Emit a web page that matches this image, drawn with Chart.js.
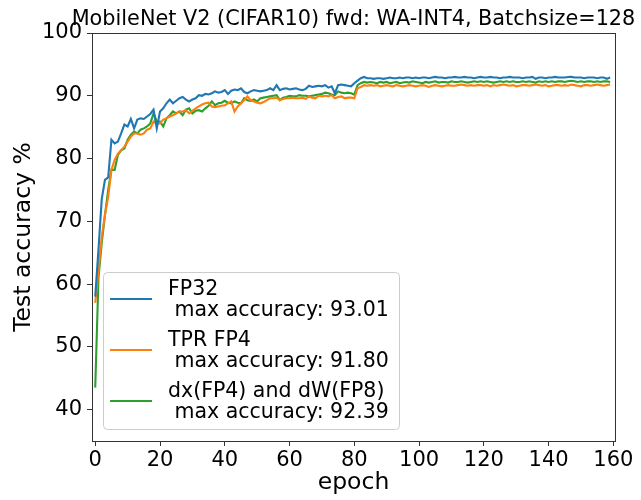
<!DOCTYPE html>
<html>
<head>
<meta charset="utf-8">
<script src="https://cdn.jsdelivr.net/npm/chart.js@4"></script>
<style>
html,body{margin:0;padding:0;background:#fff;}
#wrap{width:641px;height:500px;position:relative;}
</style>
</head>
<body>
<div id="wrap"><canvas id="c" width="641" height="500"></canvas></div>
<script>
const chartTitle = "MobileNet V2 (CIFAR10) fwd: WA-INT4, Batchsize=128";
const xAxisTitle = "epoch";
const yAxisTitle = "Test accuracy %";
const xTickValues = [0, 20, 40, 60, 80, 100, 120, 140, 160];
const yTickValues = [40, 50, 60, 70, 80, 90, 100];
const seriesLabels = [
  ["FP32", " max accuracy: 93.01"],
  ["TPR FP4", " max accuracy: 91.80"],
  ["dx(FP4) and dW(FP8)", " max accuracy: 92.39"]
];
const seriesColors = ["#1f77b4", "#ff7f0e", "#2ca02c"];
const epochs = Array.from({length: 160}, (_, i) => i);

const fp32 = [
58.0, 65.5, 73.5, 76.6, 77.0, 83.0, 82.4, 82.7, 84.0, 85.4,
85.1, 86.3, 84.8, 86.2, 86.4, 86.3, 86.7, 87.1, 87.8, 84.8,
87.5, 88.0, 88.8, 89.4, 88.8, 89.2, 89.6, 89.8, 89.4, 89.1,
89.4, 89.6, 90.1, 90.0, 90.3, 90.2, 90.4, 90.7, 90.5, 90.6,
90.9, 90.3, 90.8, 91.0, 90.9, 91.2, 90.6, 90.4, 90.7, 90.9,
90.8, 90.7, 90.8, 90.9, 91.2, 90.9, 91.7, 90.9, 91.1, 91.2,
91.0, 91.1, 91.2, 91.0, 90.9, 91.1, 91.6, 91.4, 91.5, 91.6,
91.5, 91.7, 91.3, 91.5, 90.4, 91.7, 91.8, 91.7, 91.6, 91.5,
92.0, 92.4, 92.8, 93.0, 92.8, 92.8, 92.7, 92.8, 92.8, 92.7,
92.8, 92.9, 92.8, 92.8, 92.9, 92.8, 92.9, 92.9, 92.8, 92.9,
92.8, 92.9, 92.9, 92.8, 92.9, 93.0, 92.9, 92.9, 92.8, 92.9,
92.9, 93.0, 92.9, 92.9, 93.0, 92.9, 92.9, 92.8, 92.9, 93.0,
92.9, 92.9, 93.0, 92.9, 92.9, 92.8, 92.9, 92.9, 93.0, 92.9,
92.9, 92.9, 92.8, 92.9, 92.9, 93.0, 92.7, 92.9, 92.9, 92.8,
92.9, 92.9, 93.0, 92.9, 92.9, 92.9, 93.0, 93.01, 92.9, 92.9,
92.9, 92.8, 92.9, 92.9, 92.9, 92.8, 92.9, 92.9, 92.7, 92.9
];
const tprFp4 = [
57.0, 62.0, 67.5, 71.0, 73.9, 78.2, 79.8, 80.8, 81.3, 81.9,
82.7, 83.5, 84.0, 84.0, 83.8, 84.0, 84.6, 84.8, 85.9, 85.6,
85.6, 86.2, 86.4, 86.7, 86.9, 87.2, 87.5, 87.5, 87.7, 87.2,
87.6, 88.0, 88.3, 88.6, 88.8, 88.9, 88.3, 88.2, 88.3, 88.4,
88.5, 88.8, 89.1, 87.5, 88.3, 88.8, 89.3, 89.9, 89.3, 89.1,
88.9, 88.8, 89.0, 89.3, 89.6, 89.6, 89.7, 89.3, 89.5, 89.6,
89.6, 89.7, 89.6, 89.6, 89.7, 89.5, 89.9, 89.7, 89.6, 90.0,
89.9, 90.0, 89.9, 90.1, 89.6, 89.8, 89.9, 89.6, 89.7, 89.7,
89.6, 91.2, 91.4, 91.7, 91.6, 91.7, 91.6, 91.7, 91.5, 91.6,
91.7, 91.6, 91.5, 91.7, 91.6, 91.5, 91.6, 91.7, 91.6, 91.5,
91.6, 91.7, 91.6, 91.4, 91.6, 91.7, 91.6, 91.5, 91.6, 91.7,
91.6, 91.6, 91.7, 91.8, 91.7, 91.6, 91.7, 91.6, 91.7, 91.7,
91.6, 91.7, 91.5, 91.7, 91.6, 91.7, 91.8, 91.7, 91.6, 91.7,
91.5, 91.6, 91.7, 91.7, 91.6, 91.7, 91.8, 91.7, 91.6, 91.7,
91.5, 91.6, 91.7, 91.7, 91.6, 91.7, 91.6, 91.8, 91.7, 91.6,
91.5, 91.7, 91.7, 91.6, 91.7, 91.8, 91.7, 91.6, 91.7, 91.8
];
const dxFp4dwFp8 = [
43.5, 61.0, 66.5, 71.0, 75.0, 78.2, 78.2, 80.6, 81.3, 81.6,
83.0, 83.8, 84.3, 84.0, 84.6, 84.8, 85.1, 85.6, 87.2, 85.9,
85.9, 85.1, 86.4, 86.9, 87.5, 87.2, 87.5, 86.9, 87.8, 88.0,
87.2, 87.6, 87.7, 87.5, 88.0, 88.4, 89.1, 88.5, 88.8, 88.9,
89.2, 88.9, 88.8, 89.1, 88.9, 88.8, 89.6, 89.3, 89.2, 89.4,
89.1, 89.6, 89.7, 89.8, 89.9, 90.0, 90.1, 89.3, 89.7, 89.8,
90.0, 89.9, 89.9, 90.1, 90.0, 90.0, 89.9, 90.0, 90.1, 90.2,
90.3, 90.5, 90.4, 90.2, 90.1, 90.7, 90.5, 90.4, 90.5, 90.4,
90.2, 91.7, 92.0, 92.2, 92.1, 92.2, 92.1, 92.0, 92.2, 92.1,
92.2, 92.0, 92.1, 92.2, 92.0, 92.1, 92.2, 92.1, 92.3, 92.2,
92.1, 92.0, 92.2, 92.1, 92.2, 92.3, 92.1, 92.2, 92.2, 92.1,
92.3, 92.2, 92.2, 92.3, 92.2, 92.1, 92.2, 92.3, 92.2, 92.3,
92.2, 92.3, 92.2, 92.1, 92.2, 92.3, 92.2, 92.3, 92.2, 92.3,
92.2, 92.2, 92.3, 92.2, 92.3, 92.2, 92.1, 92.3, 92.2, 92.3,
92.2, 92.3, 92.2, 92.3, 92.3, 92.2, 92.3, 92.39, 92.3, 92.2,
92.3, 92.2, 92.3, 92.3, 92.2, 92.3, 92.2, 92.3, 92.3, 92.2
];

const FONT = "'DejaVu Sans', sans-serif";

const framePlugin = {
  id: 'frame',
  afterDatasetsDraw(chart) {
    const ctx = chart.ctx, ca = chart.chartArea;
    ctx.save();
    ctx.strokeStyle = '#333';
    ctx.lineWidth = 1;
    ctx.strokeRect(Math.round(ca.left) + 0.5, Math.round(ca.top) + 0.5,
                   Math.round(ca.right - ca.left), Math.round(ca.bottom - ca.top));
    const bl = ca.left + 11, bb = ca.bottom - 12;
    const bw = 296, bh = 157;
    const bt = bb - bh;
    ctx.beginPath();
    if (ctx.roundRect) ctx.roundRect(bl + 0.5, bt + 0.5, bw, bh, 4); else ctx.rect(bl + 0.5, bt + 0.5, bw, bh);
    ctx.fillStyle = 'rgba(255,255,255,0.8)';
    ctx.fill();
    ctx.strokeStyle = '#cccccc';
    ctx.lineWidth = 1;
    ctx.stroke();
    ctx.font = '20.5px ' + FONT;
    ctx.textAlign = 'left';
    ctx.textBaseline = 'alphabetic';
    chart.data.datasets.forEach((ds, i) => {
      const b1 = bt + 23 + i * 51;
      const hy = b1 + 4;
      ctx.strokeStyle = ds.borderColor;
      ctx.lineWidth = 2;
      ctx.beginPath();
      ctx.moveTo(bl + 7, hy);
      ctx.lineTo(bl + 49, hy);
      ctx.stroke();
      ctx.fillStyle = '#000';
      ds.label.forEach((line, k) => {
        ctx.fillText(line, bl + 65, b1 + k * 20.5);
      });
    });
    ctx.font = '20.8px ' + FONT;
    ctx.textAlign = 'center';
    ctx.fillStyle = '#000';
    ctx.fillText(chartTitle, (ca.left + ca.right) / 2, 25);
    ctx.restore();
  }
};

new Chart(document.getElementById('c'), {
  type: 'line',
  data: {
    labels: epochs,
    datasets: [
      {label: seriesLabels[0], data: fp32, borderColor: seriesColors[0]},
      {label: seriesLabels[1], data: tprFp4, borderColor: seriesColors[1]},
      {label: seriesLabels[2], data: dxFp4dwFp8, borderColor: seriesColors[2]}
    ]
  },
  options: {
    responsive: false,
    animation: false,
    devicePixelRatio: 1,
    layout: {padding: {left: 0, right: 26, top: 33, bottom: 0}},
    elements: {
      point: {radius: 0, hoverRadius: 0},
      line: {borderWidth: 2.1, tension: 0, fill: false}
    },
    plugins: {
      legend: {display: false},
      title: {display: false},
      tooltip: {enabled: false}
    },
    scales: {
      x: {
        type: 'linear',
        min: -1,
        max: 160.5,
        afterFit(s) { s.height = 59; },
        afterBuildTicks(s) { s.ticks = xTickValues.map(v => ({value: v})); },
        grid: {drawOnChartArea: false, drawTicks: true, tickLength: 5, color: '#333'},
        border: {display: false},
        ticks: {
          font: {family: FONT, size: 21},
          color: '#000',
          padding: 2,
          maxRotation: 0,
          autoSkip: false
        },
        title: {
          display: true, text: xAxisTitle,
          font: {family: FONT, size: 23.5},
          color: '#000',
          padding: {top: 0, bottom: 3}
        }
      },
      y: {
        min: 35,
        max: 100,
        afterFit(s) { s.width = 92; },
        afterBuildTicks(s) { s.ticks = yTickValues.map(v => ({value: v})); },
        grid: {drawOnChartArea: false, drawTicks: true, tickLength: 5, color: '#333'},
        border: {display: false},
        ticks: {
          font: {family: FONT, size: 21},
          color: '#000',
          padding: 5,
          autoSkip: false
        },
        title: {
          display: true, text: yAxisTitle,
          font: {family: FONT, size: 23.5},
          color: '#000',
          padding: {top: 10, bottom: 0}
        }
      }
    }
  },
  plugins: [framePlugin]
});
</script>
</body>
</html>
